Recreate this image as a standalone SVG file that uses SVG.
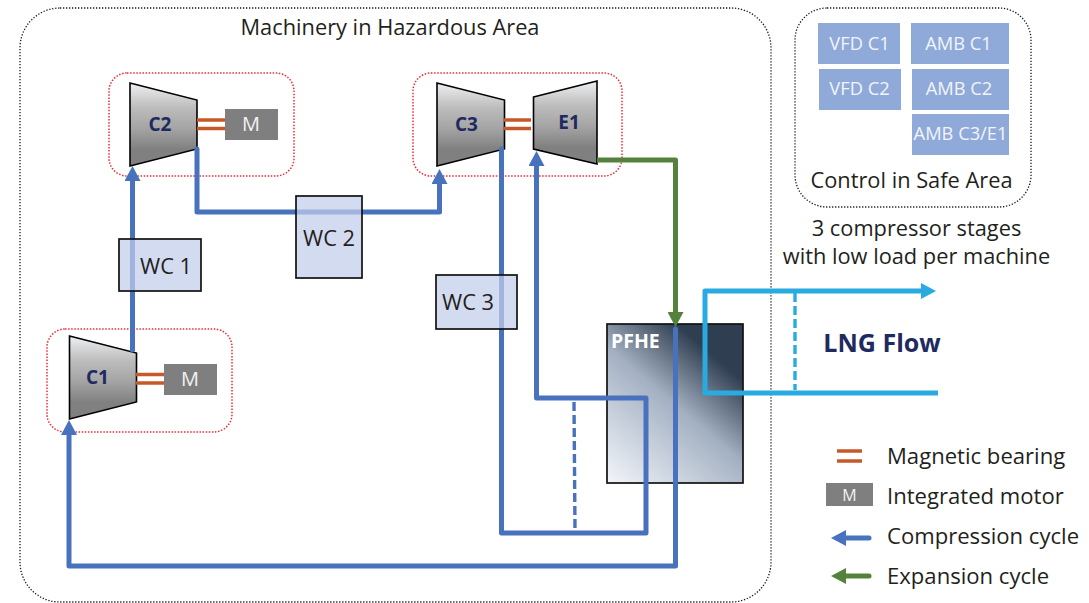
<svg xmlns="http://www.w3.org/2000/svg" width="1089" height="603" viewBox="0 0 1089 603">
<style>
text{font-family:"Open Sans","Noto Sans","Liberation Sans",sans-serif;fill:#231f20}
.area{fill:none;stroke:#1a1a1a;stroke-width:1.3;stroke-dasharray:1.3 1.7}
.unit{fill:none;stroke:#ee2b36;stroke-width:1.5;stroke-dasharray:1.5 1.6}
.turbo{fill:url(#metal);stroke:#000;stroke-width:1.6;stroke-linejoin:miter}
.tl{font-weight:700;font-size:19px;fill:#1f2a60;text-anchor:middle}
.bear{stroke:#c55a28;stroke-width:3.4;fill:none}
.motor{fill:#7f7f7f}
.ml{fill:#f2f2f2;font-size:20px;text-anchor:middle}
.wc{fill:#c2cdea;fill-opacity:.72;stroke:#111;stroke-width:1.7}
.wl{font-size:21.800px;text-anchor:middle}
.ctl{fill:#8faad8}
.cl{fill:#f2f4fa;font-size:18.300px;text-anchor:middle}
.big{font-size:21.800px}
.leg{font-size:22.100px}
.blue{fill:none;stroke:#4872bd;stroke-width:5;stroke-linejoin:round;stroke-linecap:round}
.green{fill:none;stroke:#54823c;stroke-width:5;stroke-linejoin:round}
.sky{fill:none;stroke:#29abe2;stroke-width:5;stroke-linejoin:round}
.dash{stroke-width:3.4;stroke-dasharray:9 4;stroke-linecap:butt}
</style>
<defs>
<linearGradient id="metal" x1="0" y1="0" x2="0" y2="1"><stop offset="0" stop-color="#eef0f3"/><stop offset=".3" stop-color="#bcbcbc"/><stop offset=".55" stop-color="#a4a4a4"/><stop offset=".8" stop-color="#808080"/><stop offset="1" stop-color="#808080"/></linearGradient>
<linearGradient id="pf" gradientUnits="userSpaceOnUse" x1="607" y1="483" x2="730" y2="340"><stop offset="0" stop-color="#f3f6fa"/><stop offset=".55" stop-color="#a3b0c2"/><stop offset=".88" stop-color="#2f3e50"/><stop offset="1" stop-color="#2f3e50"/></linearGradient>
<marker id="ab" markerUnits="userSpaceOnUse" markerWidth="16" markerHeight="16" refX="0" refY="8" orient="auto"><path d="M0 0L15 8L0 16z" fill="#4872bd"/></marker>
<marker id="ag" markerUnits="userSpaceOnUse" markerWidth="16" markerHeight="16" refX="0" refY="8" orient="auto"><path d="M0 0L15 8L0 16z" fill="#54823c"/></marker>
<marker id="as" markerUnits="userSpaceOnUse" markerWidth="16" markerHeight="16" refX="0" refY="8" orient="auto"><path d="M0 0L15 8L0 16z" fill="#29abe2"/></marker>
</defs>
<g id="hazard-area"><rect class="area" x="20" y="8" width="751" height="594" rx="40"/><text class="big" x="390" y="35" text-anchor="middle">Machinery in Hazardous Area</text></g>
<g id="safe-area"><rect class="area" x="795" y="8" width="236" height="199" rx="32"/><text class="big" x="911.500" y="188" text-anchor="middle">Control in Safe Area</text></g>
<g id="vfd-c1"><rect class="ctl" x="818" y="23" width="82" height="41"/><text class="cl" x="859.500" y="50">VFD C1</text></g>
<g id="vfd-c2"><rect class="ctl" x="819" y="69" width="82" height="41"/><text class="cl" x="859.500" y="95">VFD C2</text></g>
<g id="amb-c1"><rect class="ctl" x="911" y="23" width="98" height="41"/><text class="cl" x="958.500" y="50">AMB C1</text></g>
<g id="amb-c2"><rect class="ctl" x="912" y="69" width="97" height="41"/><text class="cl" x="959" y="95">AMB C2</text></g>
<g id="amb-c3e1"><rect class="ctl" x="912" y="114" width="97" height="41"/><text class="cl" x="960.500" y="140">AMB C3/E1</text></g>
<g id="note"><text class="big" x="916.500" y="236" text-anchor="middle">3 compressor stages</text><text class="big" x="916.500" y="264" text-anchor="middle">with low load per machine</text></g>
<g id="unit-c2"><rect class="unit" x="109" y="73" width="185" height="103" rx="18"/><path class="turbo" d="M130 83L197 100V149L130 166z"/><text class="tl" x="160" y="131">C2</text><path class="bear" d="M197 120H225M197 128.500H225"/><rect class="motor" x="225" y="109" width="53" height="31"/><text class="ml" x="251" y="131">M</text></g>
<g id="unit-c3e1"><rect class="unit" x="413" y="73" width="209" height="103" rx="18"/><path class="turbo" d="M437 83L504.500 100V149L437 166z"/><text class="tl" x="466.500" y="131">C3</text><path class="turbo" d="M533.500 97L597 81V164L533.500 149z"/><text class="tl" x="569" y="129">E1</text><path class="bear" d="M504 120H531M504 128.500H531"/></g>
<g id="unit-c1"><rect class="unit" x="47" y="329" width="185" height="103" rx="18"/><path class="turbo" d="M69.500 336L136.500 353V402L69.500 419z"/><text class="tl" x="97.500" y="384">C1</text><path class="bear" d="M136 374.500H164M136 383H164"/><rect class="motor" x="164" y="364" width="53" height="31"/><text class="ml" x="190" y="386">M</text></g>
<g id="pfhe"><rect x="607" y="324" width="136" height="159" fill="url(#pf)" stroke="#111" stroke-width="1.7"/><text x="611" y="348" font-size="19.500" font-weight="700" style="fill:#fff">PFHE</text></g>
<g id="connectors">
<path class="blue" marker-end="url(#ab)" d="M132.500 350V181"/>
<path class="blue" marker-end="url(#ab)" d="M197 149V212H439.500V184"/>
<path class="blue" marker-end="url(#ab)" d="M501.500 149V533H646V398H536.500V166"/>
<path class="blue dash" d="M574 402L575 531"/>
<path class="green" marker-end="url(#ag)" d="M597 160H675.500V312"/>
<path class="blue" marker-end="url(#ab)" d="M675.500 329V566H69V435"/>
<path class="sky" marker-end="url(#as)" d="M938 393H705V291H921"/>
<path class="sky dash" d="M795 293V390"/>
</g>
<g id="wc1"><rect class="wc" x="119" y="239" width="82" height="52"/><text class="wl" x="166" y="274">WC 1</text></g>
<g id="wc2"><rect class="wc" x="296" y="196" width="66" height="82"/><text class="wl" x="329" y="246">WC 2</text></g>
<g id="wc3"><rect class="wc" x="436" y="275" width="81" height="54"/><text class="wl" x="468" y="310">WC 3</text></g>
<g id="lng"><text x="882" y="352" font-size="25" font-weight="700" text-anchor="middle" style="fill:#1f2a60">LNG Flow</text></g>
<g id="legend">
<path class="bear" d="M837 451H862M837 461H862"/><text class="leg" x="887" y="464">Magnetic bearing</text>
<rect class="motor" x="826" y="483" width="47" height="23"/><text class="ml" x="849.500" y="501" style="font-size:16px">M</text><text class="leg" x="887" y="503.500">Integrated motor</text>
<path class="blue" marker-end="url(#ab)" d="M869 538H846"/><text class="leg" x="887" y="544">Compression cycle</text>
<path class="green" style="stroke-linecap:round" marker-end="url(#ag)" d="M869 576H846"/><text class="leg" x="887" y="584">Expansion cycle</text>
</g>
</svg>
